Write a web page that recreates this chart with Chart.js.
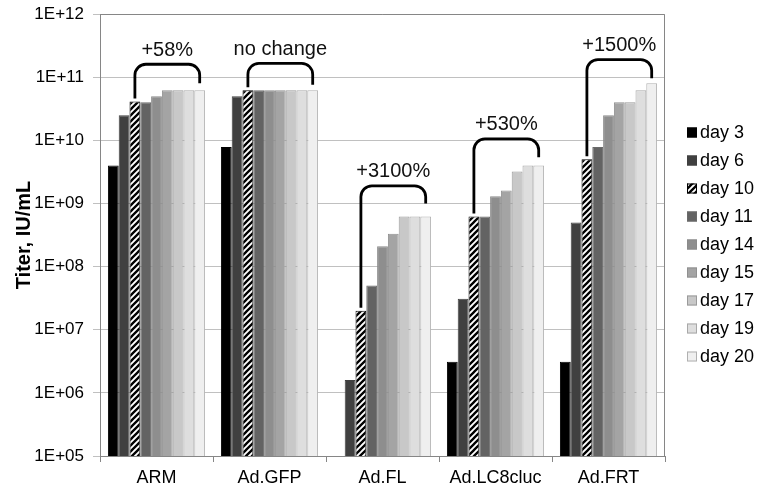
<!DOCTYPE html>
<html>
<head>
<meta charset="utf-8">
<script src="https://cdn.jsdelivr.net/npm/chart.js@4.4.1/dist/chart.umd.min.js"></script>
<style>
  html, body { margin:0; padding:0; background:#fff; }
  #wrap { width:758px; height:491px; }
</style>
</head>
<body>
<div id="wrap"><canvas id="titer"></canvas></div>
<script>
/* ---- data ---- */
const categories = ['ARM', 'Ad.GFP', 'Ad.FL', 'Ad.LC8cluc', 'Ad.FRT'];
const dayLabels  = ['day 3', 'day 6', 'day 10', 'day 11', 'day 14', 'day 15', 'day 17', 'day 19', 'day 20'];

const day3  = [4.0e9,  7.8e9,  null,   3.1e6, 3.1e6];
const day6  = [2.5e10, 5.0e10, 1.6e6,  3.1e7, 5.0e8];
const day10 = [4.1e10, 6.2e10, 2.0e7,  6.2e8, 5.0e9];
const day11 = [4.0e10, 6.2e10, 5.0e7,  6.2e8, 7.8e9];
const day14 = [5.0e10, 6.2e10, 2.1e8,  1.3e9, 2.5e10];
const day15 = [6.2e10, 6.2e10, 3.3e8,  1.6e9, 4.0e10];
const day17 = [6.2e10, 6.2e10, 6.2e8,  3.2e9, 4.0e10];
const day19 = [6.2e10, 6.2e10, 6.2e8,  4.0e9, 6.2e10];
const day20 = [6.2e10, 6.2e10, 6.2e8,  4.0e9, 8.0e10];

const yTicks = [1e5, 1e6, 1e7, 1e8, 1e9, 1e10, 1e11, 1e12];

/* brackets: from day 10 bar to day 20 bar */
const bracketLabels = ['+58%', 'no change', '+3100%', '+530%', '+1500%'];
const bracketTop    = [1.6e11, 1.65e11, 1.9e9, 1.05e10, 1.9e11];
const bracketEnd    = [8.0e10, 7.6e10,  1.0e9, 5.4e9,   9.6e10];

/* ---- hatch for day 10 ---- */
function hatch() {
  const p = document.createElement('canvas');
  p.width = 6; p.height = 6;
  const g = p.getContext('2d');
  g.fillStyle = '#fff'; g.fillRect(0, 0, 6, 6);
  g.strokeStyle = '#000'; g.lineWidth = 2.3;
  g.beginPath();
  g.moveTo(-1, 7); g.lineTo(7, -1);
  g.moveTo(-1, 1); g.lineTo(1, -1);
  g.moveTo(5, 7);  g.lineTo(7, 5);
  g.stroke();
  return g.createPattern(p, 'repeat');
}

const series  = [day3, day6, day10, day11, day14, day15, day17, day19, day20];
const fills   = ['#000000', '#404040', hatch(), '#636363', '#8e8e8e', '#a4a4a4', '#c8c8c8', '#dedede', '#efefef'];
const borders = ['#000000', '#404040', '#000000', '#6a6a6a', '#8a8a8a', '#909090', '#9a9a9a', '#a8a8a8', '#b0b0b0'];

const FONT = '"Liberation Sans", Arial, sans-serif';

/* frame on top/right + brackets + legend */
const extras = {
  id: 'extras',
  beforeDatasetsDraw(chart) {
    const { ctx, chartArea: a } = chart;
    ctx.save();
    ctx.strokeStyle = '#868686';
    ctx.lineWidth = 1;
    ctx.beginPath();
    ctx.moveTo(a.left, a.top + 0.5); ctx.lineTo(a.right - 0.5, a.top + 0.5); ctx.lineTo(a.right - 0.5, a.bottom);
    ctx.stroke();
    ctx.restore();
  },
  afterDatasetsDraw(chart) {
    const { ctx } = chart;
    const y = chart.scales.y;
    const m10 = chart.getDatasetMeta(2), m20 = chart.getDatasetMeta(8);
    const r = 11;
    ctx.save();
    ctx.strokeStyle = '#000';
    ctx.lineWidth = 2.8;
    ctx.lineCap = 'butt';
    categories.forEach((c, i) => {
      const x1 = m10.data[i].x, x2 = m20.data[i].x;
      const yt = y.getPixelForValue(bracketTop[i]);
      const yl = m10.data[i].y - 3;
      const yr = y.getPixelForValue(bracketEnd[i]);
      ctx.beginPath();
      ctx.moveTo(x1, yl);
      ctx.arcTo(x1, yt, x1 + r, yt, r);
      ctx.arcTo(x2, yt, x2, yt + r, r);
      ctx.lineTo(x2, yr);
      ctx.stroke();
      ctx.fillStyle = '#111';
      ctx.font = '20px ' + FONT;
      ctx.textAlign = 'center';
      ctx.textBaseline = 'middle';
      ctx.fillText(bracketLabels[i], (x1 + x2) / 2, yt - 14);
    });
    ctx.restore();
  },
  afterDraw(chart) {
    const { ctx, chartArea: a } = chart;
    const x0 = a.right + 22;
    const yc = chart.height / 2 - 4 * 28 - 1;
    ctx.save();
    chart.data.datasets.forEach((ds, i) => {
      const yy = yc + i * 28;
      ctx.fillStyle = ds.backgroundColor;
      ctx.fillRect(x0, yy - 5, 10, 10);
      ctx.strokeStyle = ds.borderColor;
      ctx.lineWidth = 1;
      ctx.strokeRect(x0 + 0.5, yy - 4.5, 9, 9);
      ctx.fillStyle = '#000';
      ctx.font = '18px ' + FONT;
      ctx.textAlign = 'left';
      ctx.textBaseline = 'middle';
      ctx.fillText(ds.label, x0 + 13, yy + 1);
    });
    ctx.restore();
  }
};

new Chart(document.getElementById('titer'), {
  type: 'bar',
  data: {
    labels: categories,
    datasets: series.map((s, i) => ({
      label: dayLabels[i],
      data: s,
      backgroundColor: fills[i],
      borderColor: borders[i],
      borderWidth: 1,
      categoryPercentage: 0.86,
      barPercentage: 1.0
    }))
  },
  options: {
    responsive: true,
    maintainAspectRatio: false,
    animation: false,
    devicePixelRatio: 1,
    layout: { padding: { left: 0, right: 93, top: 14, bottom: 0 } },
    plugins: { legend: { display: false }, tooltip: { enabled: false } },
    scales: {
      x: {
        grid: { display: true, drawOnChartArea: false, tickLength: 6, color: '#868686', offset: true },
        border: { color: '#868686' },
        ticks: { color: '#000', font: { family: FONT, size: 18 }, padding: 5, maxRotation: 0 },
        afterFit: s => { s.height = 35; s.paddingLeft = 0; s.paddingRight = 0; }
      },
      y: {
        type: 'logarithmic',
        min: 1e5,
        max: 1e12,
        afterBuildTicks: s => { s.ticks = yTicks.map(v => ({ value: v, major: true })); },
        ticks: {
          color: '#000',
          font: { family: FONT, size: 17 },
          padding: 9,
          callback: v => '1E+' + String(Math.round(Math.log10(v))).padStart(2, '0')
        },
        grid: { color: '#c0c0c0', tickLength: 7 },
        border: { color: '#868686' },
        title: {
          display: true,
          text: 'Titer, IU/mL',
          color: '#000',
          font: { family: FONT, size: 20, weight: 'bold' },
          padding: { top: 12, bottom: 0 }
        },
        afterFit: s => { s.width = 100; s.paddingTop = 0; s.paddingBottom = 0; }
      }
    }
  },
  plugins: [extras]
});
</script>
</body>
</html>
